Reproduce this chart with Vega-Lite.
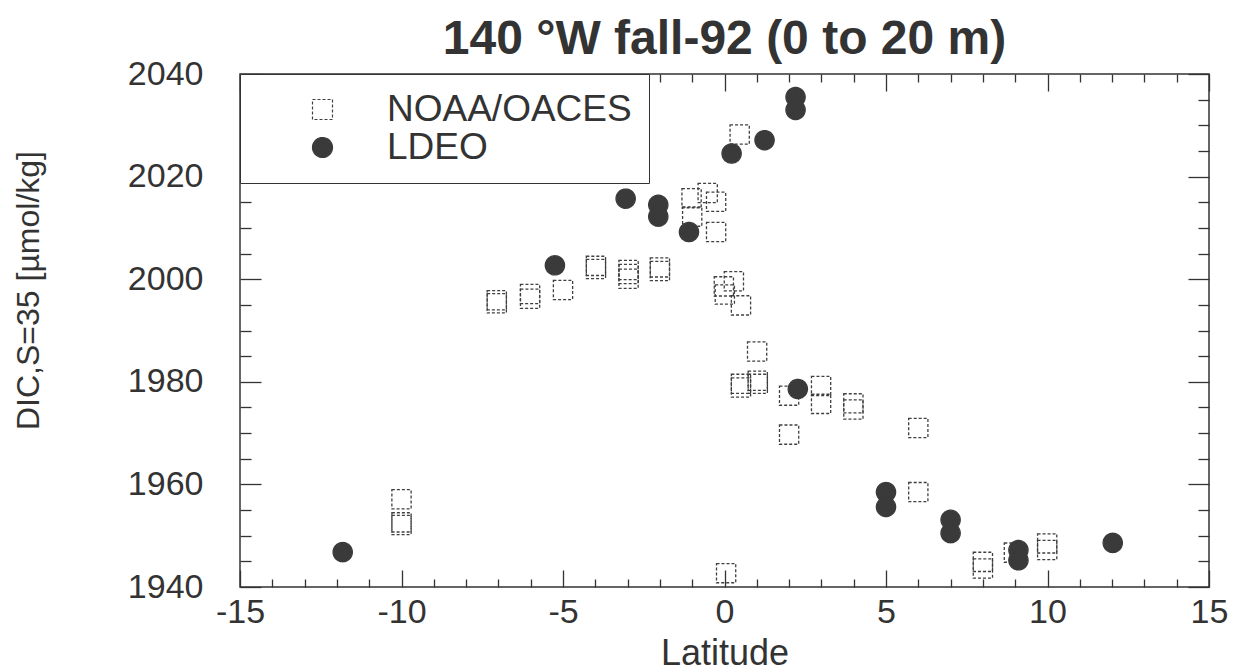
{
  "$schema": "https://vega.github.io/schema/vega-lite/v6.json",
  "width": 969,
  "height": 513,
  "autosize": {"type": "none"},
  "padding": {"left": 240, "top": 74, "right": 31, "bottom": 84},
  "background": "white",
  "title": {
    "text": "140 °W fall-92 (0 to 20 m)",
    "font": "Liberation Sans",
    "fontSize": 48,
    "fontWeight": "bold",
    "color": "#333333",
    "anchor": "middle",
    "offset": -7
  },
  "config": {
    "view": {"stroke": "#333333", "strokeWidth": 1.5},
    "axis": {
      "domain": false,
      "grid": false,
      "labelFont": "Liberation Sans",
      "titleFont": "Liberation Sans",
      "labelColor": "#333333",
      "titleColor": "#333333",
      "tickColor": "#333333",
      "tickWidth": 1.3,
      "labelFontSize": 34,
      "titleFontWeight": "normal",
      "labelOverlap": false,
      "labelFlush": false
    }
  },
  "data": {
    "values": [
      {"lat": -10.0, "dic": 1957.1, "source": "NOAA/OACES"},
      {"lat": -10.0, "dic": 1952.6, "source": "NOAA/OACES"},
      {"lat": -10.0, "dic": 1952.1, "source": "NOAA/OACES"},
      {"lat": -7.05, "dic": 1995.3, "source": "NOAA/OACES"},
      {"lat": -7.05, "dic": 1995.9, "source": "NOAA/OACES"},
      {"lat": -6.02, "dic": 1997.1, "source": "NOAA/OACES"},
      {"lat": -6.02, "dic": 1996.2, "source": "NOAA/OACES"},
      {"lat": -5.0, "dic": 1997.9, "source": "NOAA/OACES"},
      {"lat": -3.98, "dic": 2002.6, "source": "NOAA/OACES"},
      {"lat": -3.98, "dic": 2002.0, "source": "NOAA/OACES"},
      {"lat": -2.97, "dic": 2001.8, "source": "NOAA/OACES"},
      {"lat": -2.97, "dic": 2001.0, "source": "NOAA/OACES"},
      {"lat": -2.97, "dic": 2000.1, "source": "NOAA/OACES"},
      {"lat": -2.0, "dic": 2002.3, "source": "NOAA/OACES"},
      {"lat": -2.0, "dic": 2001.6, "source": "NOAA/OACES"},
      {"lat": -1.02, "dic": 2015.8, "source": "NOAA/OACES"},
      {"lat": -0.52, "dic": 2016.8, "source": "NOAA/OACES"},
      {"lat": -1.0, "dic": 2012.2, "source": "NOAA/OACES"},
      {"lat": -0.26, "dic": 2015.1, "source": "NOAA/OACES"},
      {"lat": -0.26, "dic": 2009.2, "source": "NOAA/OACES"},
      {"lat": -0.02, "dic": 1998.6, "source": "NOAA/OACES"},
      {"lat": 0.29, "dic": 1999.6, "source": "NOAA/OACES"},
      {"lat": 0.01, "dic": 1997.0, "source": "NOAA/OACES"},
      {"lat": 0.51, "dic": 1994.9, "source": "NOAA/OACES"},
      {"lat": 0.47, "dic": 2028.2, "source": "NOAA/OACES"},
      {"lat": 0.05, "dic": 1942.7, "source": "NOAA/OACES"},
      {"lat": 1.01, "dic": 1985.9, "source": "NOAA/OACES"},
      {"lat": 0.51, "dic": 1979.6, "source": "NOAA/OACES"},
      {"lat": 0.51, "dic": 1978.9, "source": "NOAA/OACES"},
      {"lat": 1.03, "dic": 1980.2, "source": "NOAA/OACES"},
      {"lat": 1.03, "dic": 1979.6, "source": "NOAA/OACES"},
      {"lat": 2.0, "dic": 1977.3, "source": "NOAA/OACES"},
      {"lat": 2.99, "dic": 1979.2, "source": "NOAA/OACES"},
      {"lat": 2.99, "dic": 1975.7, "source": "NOAA/OACES"},
      {"lat": 3.99, "dic": 1975.8, "source": "NOAA/OACES"},
      {"lat": 3.99, "dic": 1974.6, "source": "NOAA/OACES"},
      {"lat": 2.0, "dic": 1969.7, "source": "NOAA/OACES"},
      {"lat": 6.0, "dic": 1971.0, "source": "NOAA/OACES"},
      {"lat": 6.0, "dic": 1958.5, "source": "NOAA/OACES"},
      {"lat": 8.0, "dic": 1944.9, "source": "NOAA/OACES"},
      {"lat": 8.0, "dic": 1943.6, "source": "NOAA/OACES"},
      {"lat": 8.96, "dic": 1946.7, "source": "NOAA/OACES"},
      {"lat": 9.99, "dic": 1948.5, "source": "NOAA/OACES"},
      {"lat": 9.99, "dic": 1947.2, "source": "NOAA/OACES"},
      {"lat": -11.82, "dic": 1946.8, "source": "LDEO"},
      {"lat": -5.25, "dic": 2002.7, "source": "LDEO"},
      {"lat": -3.06, "dic": 2015.7, "source": "LDEO"},
      {"lat": -2.05, "dic": 2014.5, "source": "LDEO"},
      {"lat": -2.05, "dic": 2012.2, "source": "LDEO"},
      {"lat": -1.1, "dic": 2009.2, "source": "LDEO"},
      {"lat": 0.22, "dic": 2024.5, "source": "LDEO"},
      {"lat": 1.24, "dic": 2027.1, "source": "LDEO"},
      {"lat": 2.2, "dic": 2035.5, "source": "LDEO"},
      {"lat": 2.2, "dic": 2033.0, "source": "LDEO"},
      {"lat": 2.27, "dic": 1978.6, "source": "LDEO"},
      {"lat": 5.0, "dic": 1958.5, "source": "LDEO"},
      {"lat": 5.0, "dic": 1955.6, "source": "LDEO"},
      {"lat": 7.0, "dic": 1953.1, "source": "LDEO"},
      {"lat": 7.0, "dic": 1950.5, "source": "LDEO"},
      {"lat": 9.1, "dic": 1947.2, "source": "LDEO"},
      {"lat": 9.1, "dic": 1945.2, "source": "LDEO"},
      {"lat": 12.02, "dic": 1948.6, "source": "LDEO"}
    ]
  },
  "resolve": {"axis": {"x": "independent", "y": "independent"}},
  "layer": [
    {
      "mark": {"type": "point", "filled": true, "size": 370, "strokeWidth": 1.3, "opacity": 1},
      "encoding": {
        "x": {
          "field": "lat", "type": "quantitative",
          "scale": {"domain": [-15, 15], "nice": false, "zero": false},
          "axis": {
            "orient": "bottom",
            "values": [-15, -10, -5, 0, 5, 10, 15],
            "labelExpr": "'' + datum.value",
            "ticks": false,
            "labelPadding": 8,
            "title": "Latitude",
            "titleFontSize": 36,
            "titlePadding": 7
          }
        },
        "y": {
          "field": "dic", "type": "quantitative",
          "scale": {"domain": [1940, 2040], "nice": false, "zero": false},
          "axis": {
            "orient": "left",
            "values": [1940, 1960, 1980, 2000, 2020, 2040],
            "labelExpr": "'' + datum.value",
            "ticks": false,
            "labelPadding": 37,
            "title": "DIC,S=35 [µmol/kg]",
            "titleFontSize": 32,
            "titlePadding": 82,
            "titleY": 216
          }
        },
        "shape": {
          "field": "source", "type": "nominal",
          "scale": {"domain": ["NOAA/OACES", "LDEO"], "range": ["square", "circle"]},
          "legend": {
            "title": null,
            "orient": "top-left",
            "offset": 0,
            "padding": 17,
            "symbolOffset": 47,
            "labelOffset": 46,
            "labelFont": "Liberation Sans",
            "labelFontSize": 37,
            "labelLimit": 500,
            "labelColor": "#333333",
            "symbolSize": 400,
            "symbolStrokeWidth": 1.2,
            "symbolOpacity": 1,
            "rowPadding": 0,
            "strokeColor": "#333333",
            "fillColor": "white"
          }
        },
        "fill": {
          "field": "source", "type": "nominal",
          "scale": {"domain": ["NOAA/OACES", "LDEO"], "range": ["rgba(255,255,255,0)", "#3a3a3a"]},
          "legend": null
        },
        "stroke": {
          "field": "source", "type": "nominal",
          "scale": {"domain": ["NOAA/OACES", "LDEO"], "range": ["#3f3f3f", "#3a3a3a"]},
          "legend": null
        },
        "strokeDash": {
          "field": "source", "type": "nominal",
          "scale": {"domain": ["NOAA/OACES", "LDEO"], "range": [[3, 2], [1, 0]]},
          "legend": null
        }
      }
    },
    {
      "mark": {"type": "point", "opacity": 0},
      "encoding": {
        "x": {
          "field": "lat", "type": "quantitative",
          "scale": {"domain": [-15, 15], "nice": false, "zero": false},
          "axis": {"orient": "bottom", "values": [-15, -10, -5, 0, 5, 10, 15], "labels": false, "tickSize": -17, "title": null}
        },
        "y": {
          "field": "dic", "type": "quantitative",
          "scale": {"domain": [1940, 2040], "nice": false, "zero": false},
          "axis": {"orient": "left", "values": [1940, 1960, 1980, 2000, 2020, 2040], "labels": false, "tickSize": -21, "title": null}
        }
      }
    },
    {
      "mark": {"type": "point", "opacity": 0},
      "encoding": {
        "x": {
          "field": "lat", "type": "quantitative",
          "scale": {"domain": [-15, 15], "nice": false, "zero": false},
          "axis": {"orient": "bottom", "values": [-14,-13,-12,-11,-9,-8,-7,-6,-4,-3,-2,-1,1,2,3,4,6,7,8,9,11,12,13,14], "labels": false, "tickSize": -8, "title": null}
        },
        "y": {
          "field": "dic", "type": "quantitative",
          "scale": {"domain": [1940, 2040], "nice": false, "zero": false},
          "axis": {"orient": "left", "values": [1945,1950,1955,1965,1970,1975,1985,1990,1995,2005,2010,2015,2025,2030,2035], "labels": false, "tickSize": -11, "title": null}
        }
      }
    },
    {
      "mark": {"type": "point", "opacity": 0},
      "encoding": {
        "x": {
          "field": "lat", "type": "quantitative",
          "scale": {"domain": [-15, 15], "nice": false, "zero": false},
          "axis": {"orient": "top", "values": [-15, -10, -5, 0, 5, 10, 15], "labels": false, "tickSize": -17, "title": null}
        },
        "y": {
          "field": "dic", "type": "quantitative",
          "scale": {"domain": [1940, 2040], "nice": false, "zero": false},
          "axis": {"orient": "right", "values": [1940, 1960, 1980, 2000, 2020, 2040], "labels": false, "tickSize": -21, "title": null}
        }
      }
    },
    {
      "mark": {"type": "point", "opacity": 0},
      "encoding": {
        "x": {
          "field": "lat", "type": "quantitative",
          "scale": {"domain": [-15, 15], "nice": false, "zero": false},
          "axis": {"orient": "top", "values": [-14,-13,-12,-11,-9,-8,-7,-6,-4,-3,-2,-1,1,2,3,4,6,7,8,9,11,12,13,14], "labels": false, "tickSize": -8, "title": null}
        },
        "y": {
          "field": "dic", "type": "quantitative",
          "scale": {"domain": [1940, 2040], "nice": false, "zero": false},
          "axis": {"orient": "right", "values": [1945,1950,1955,1965,1970,1975,1985,1990,1995,2005,2010,2015,2025,2030,2035], "labels": false, "tickSize": -11, "title": null}
        }
      }
    }
  ]
}
